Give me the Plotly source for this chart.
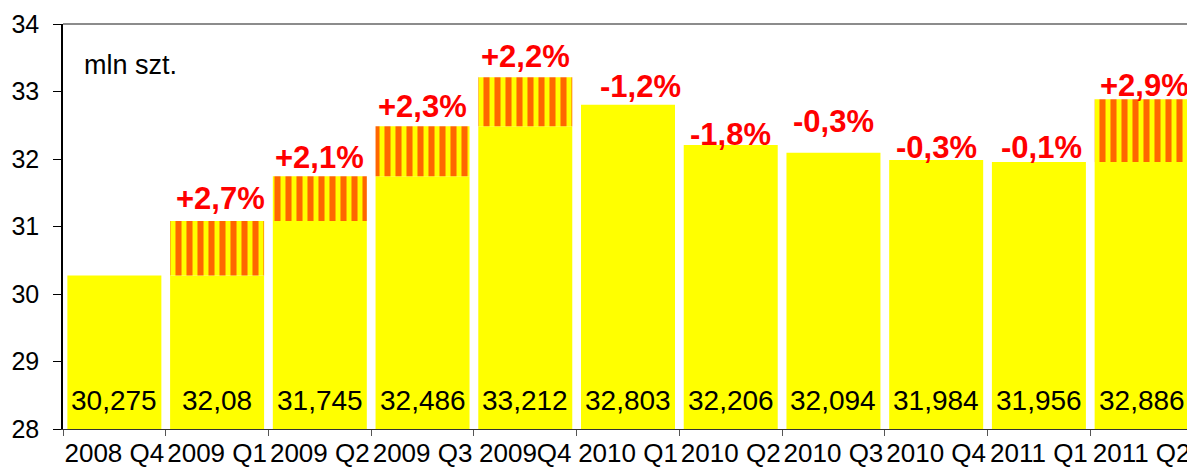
import plotly.graph_objects as go

# ---- data ----
categories = ["2008 Q4", "2009 Q1", "2009 Q2", "2009 Q3", "2009Q4", "2010 Q1",
              "2010 Q2", "2010 Q3", "2010 Q4", "2011 Q1", "2011 Q2"]
values = [30.275, 31.08, 31.745, 32.486, 33.212, 32.803, 32.206, 32.094, 31.984, 31.956, 32.886]
value_labels = ["30,275", "32,08", "31,745", "32,486", "33,212", "32,803",
                "32,206", "32,094", "31,984", "31,956", "32,886"]
pct_labels = ["", "+2,7%", "+2,1%", "+2,3%", "+2,2%", "-1,2%",
              "-1,8%", "-0,3%", "-0,3%", "-0,1%", "+2,9%"]
unit_label = "mln szt."

# ---- styles ----
FONT = "Liberation Sans, Arial, sans-serif"
YELLOW = "#FFFF00"
ORANGE = "#FF6600"
pct_yshift = [0, 23, 19, 20, 21, 18, 11, 31, 13, 14, 14]
pct_xshift = [0, 3, 0, 0, 0, 12, 0, 0, 0, 3, 3]

prev = [None] + values[:-1]
yellow_top = [v if p is None or v <= p else p for v, p in zip(values, prev)]
stripe_base = [p if (p is not None and v > p) else None for v, p in zip(values, prev)]
stripe_h = [(v - p) if (p is not None and v > p) else None for v, p in zip(values, prev)]

fig = go.Figure()
fig.add_trace(go.Bar(x=categories, y=yellow_top, marker=dict(color=YELLOW, line=dict(width=0)),
                     hoverinfo="skip", showlegend=False))
fig.add_trace(go.Bar(x=categories, y=stripe_h, base=stripe_base,
                     marker=dict(color=YELLOW, line=dict(width=0),
                                 pattern=dict(shape="|", bgcolor=YELLOW, fgcolor=ORANGE,
                                              size=11, solidity=0.55, fillmode="replace")),
                     hoverinfo="skip", showlegend=False))

annotations = []
for i, c in enumerate(categories):
    annotations.append(dict(x=c, y=28, xref="x", yref="y", text=value_labels[i],
                            showarrow=False, yanchor="middle", yshift=29,
                            font=dict(family=FONT, size=28, color="black")))
    if pct_labels[i]:
        annotations.append(dict(x=c, y=values[i], xref="x", yref="y", text="<b>" + pct_labels[i] + "</b>",
                                showarrow=False, yanchor="middle", yshift=pct_yshift[i],
                                xshift=pct_xshift[i],
                                font=dict(family=FONT, size=31, color="#FF0000")))
annotations.append(dict(x=0.017, y=0.899, xref="paper", yref="paper", text=unit_label,
                        showarrow=False, xanchor="left", yanchor="middle",
                        font=dict(family=FONT, size=27, color="black")))

# page body has an 8px margin, so the figure is drawn 8px in from the window corner
fig.update_layout(
    width=1187, height=461,
    margin=dict(l=55, r=2, t=16, b=40, autoexpand=False),
    paper_bgcolor="white", plot_bgcolor="white",
    barmode="overlay", bargap=0.085,
    annotations=annotations,
    shapes=[
        dict(type="line", xref="paper", yref="paper", x0=0, x1=1, y0=1, y1=1,
             line=dict(color="#8c8c8c", width=2)),
        dict(type="line", xref="paper", yref="paper", x0=1, x1=1, y0=0, y1=1,
             line=dict(color="#d0d0d0", width=1)),
    ],
)
fig.update_xaxes(type="category", showgrid=False, showline=True, linecolor="#333333", linewidth=1,
                 ticks="outside", tickson="boundaries", ticklen=6, tickcolor="#555555",
                 tickangle=0, tickfont=dict(family=FONT, size=26, color="black"),
                 ticklabelstandoff=1,
                 range=[-0.5, 10.5], fixedrange=True, automargin=False)
fig.update_yaxes(range=[28, 34], dtick=1, showgrid=False, showline=True, linecolor="black",
                 linewidth=1.5, ticks="outside", ticklen=8, tickcolor="black",
                 ticklabelstandoff=9,
                 tickfont=dict(family=FONT, size=25, color="black"), automargin=False,
                 zeroline=False)

fig.write_html("out.html")
